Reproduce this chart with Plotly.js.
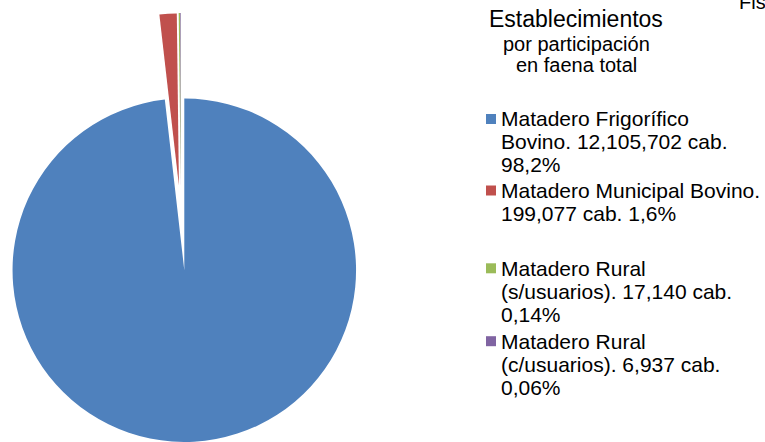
<!DOCTYPE html>
<html>
<head>
<meta charset="utf-8">
<script src="https://cdn.plot.ly/plotly-3.0.1.min.js"></script>
<style>html,body{margin:0;padding:0;background:#fff;overflow:hidden}#chart{width:765px;height:442px}</style>
</head>
<body>
<div id="chart"></div>
<script>
// ---- data ----
var categories = ["Matadero Frigorífico Bovino", "Matadero Municipal Bovino", "Matadero Rural (s/usuarios)", "Matadero Rural (c/usuarios)"];
var values = [12105702, 199077, 17140, 6937];
var colors = ["#4F81BD", "#C0504D", "#9BBB59", "#8064A2"];
var legendLines = [
  ["Matadero Frigorífico", "Bovino. 12,105,702 cab.", "98,2%"],
  ["Matadero Municipal Bovino.", "199,077 cab. 1,6%"],
  ["Matadero Rural", "(s/usuarios). 17,140 cab.", "0,14%"],
  ["Matadero Rural", "(c/usuarios). 6,937 cab.", "0,06%"]
];
var titleLines = ["Establecimientos", "por participación", "en faena total"];
var cornerText = "Fis";

// ---- layout helpers (pixels) ----
var W = 765, H = 442;
function px(x){ return x / W; }
function py(y){ return 1 - y / H; }
var T = "rgba(0,0,0,0)";
var R = 172, CX = 184.3, CY = 270.5;

function pieTrace(showIdx, cx, cy){
  var cols = colors.map(function(c, i){ return showIdx.indexOf(i) >= 0 ? c : T; });
  return {
    type: "pie", labels: categories, values: values, sort: false,
    direction: "clockwise", rotation: 0, textinfo: "none", hoverinfo: "label+value",
    marker: {colors: cols, line: {width: 0}}, showlegend: false,
    domain: {x: [px(cx - R), px(cx + R)], y: [Math.max(0, py(cy + R)), Math.min(1, py(cy - R))]}
  };
}

var data = [
  pieTrace([0], CX, CY),
  pieTrace([1], CX - 5.4, CY - 85),
  pieTrace([2, 3], CX - 3.5, CY - 85.5)
];

var font = "'Liberation Sans', Arial, sans-serif";
var ann = [];
var shapes = [];
function txt(s, x, y, size, anchor){
  ann.push({text: s, x: px(x), y: py(y), xref: "paper", yref: "paper", xanchor: anchor, yanchor: "middle",
    showarrow: false, font: {family: font, size: size, color: "#000"}});
}
txt(titleLines[0], 575.5, 19, 23, "center");
txt(titleLines[1], 576, 44.5, 20, "center");
txt(titleLines[2], 576, 64.5, 20, "center");
txt(cornerText, 737, 2, 20, "left");

var firstY = [119, 190.5, 268.3, 341.2];
var step = 22.9;
legendLines.forEach(function(lines, i){
  shapes.push({type: "rect", xref: "paper", yref: "paper", x0: px(486), x1: px(496),
    y0: py(firstY[i] - 5), y1: py(firstY[i] + 5), fillcolor: colors[i], line: {width: 0}});
  lines.forEach(function(l, j){ txt(l, 499, firstY[i] + j * step, 21, "left"); });
});

var layout = {
  width: W, height: H, margin: {l: 0, r: 0, t: 0, b: 0},
  paper_bgcolor: "#fff", plot_bgcolor: "#fff", showlegend: false,
  annotations: ann, shapes: shapes
};
Plotly.newPlot("chart", data, layout, {displayModeBar: false, staticPlot: true});
</script>
</body>
</html>
